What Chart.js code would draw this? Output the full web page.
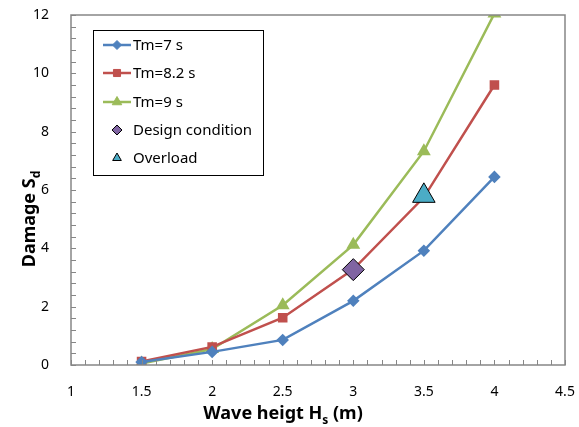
<!DOCTYPE html>
<html><head><meta charset="utf-8">
<script src="https://cdn.jsdelivr.net/npm/chart.js@4.4.0/dist/chart.umd.min.js"></script>
<style>html,body{margin:0;padding:0;background:#fff}#wrap{width:579px;height:427px}</style>
</head><body><div id="wrap"><canvas id="c" width="579" height="427"></canvas></div>
<script>
const hs = [1.5, 2, 2.5, 3, 3.5, 4];
const tm7 = [0.1, 0.45, 0.86, 2.2, 3.92, 6.45];
const tm82 = [0.12, 0.62, 1.62, 3.28, 5.75, 9.6];
const tm9 = [0.05, 0.55, 2.05, 4.12, 7.33, 12.05];
const designX = [3], designY = [3.27];
const overloadX = [3.5], overloadY = [5.8];
const seriesNames = ['Tm=7 s', 'Tm=8.2 s', 'Tm=9 s', 'Design condition', 'Overload'];
const xTicks = [1, 1.5, 2, 2.5, 3, 3.5, 4, 4.5];
const yTicks = [0, 2, 4, 6, 8, 10, 12];

const pts = (xs, ys) => xs.map((x, i) => ({x, y: ys[i]}));
const FONT = '"Noto Sans", "Liberation Sans", sans-serif';

const datasets = [
  {label: seriesNames[0], data: pts(hs, tm7), borderColor: '#4F81BD', backgroundColor: '#4F81BD', pointStyle: 'rectRot', pointRadius: 4.5, borderWidth: 2.5, showLine: true, clip: 0, order: 3},
  {label: seriesNames[1], data: pts(hs, tm82), borderColor: '#C0504D', backgroundColor: '#C0504D', pointStyle: 'rect', pointRadius: 5, borderWidth: 2.5, showLine: true, clip: 0, order: 4},
  {label: seriesNames[2], data: pts(hs, tm9), borderColor: '#9BBB59', backgroundColor: '#9BBB59', pointStyle: 'triangle', pointRadius: 5.5, borderWidth: 2.5, showLine: true, clip: 0, order: 5},
  {label: seriesNames[3], data: pts(designX, designY), borderColor: '#000', backgroundColor: '#8064A2', pointStyle: 'rectRot', pointRadius: 11, pointBorderWidth: 1, showLine: false, clip: false, order: 1},
  {label: seriesNames[4], data: pts(overloadX, overloadY), borderColor: '#000', backgroundColor: '#4BACC6', pointStyle: 'triangle', pointRadius: 13, pointBorderWidth: 1, showLine: false, clip: false, order: 2}
];

const extras = {
  id: 'extras',
  afterDraw(chart) {
    const ctx = chart.ctx, a = chart.chartArea;
    const xs = chart.scales.x, ys = chart.scales.y;
    ctx.save();
    ctx.strokeStyle = '#868686';
    ctx.lineWidth = 1;
    ctx.beginPath();
    for (let v = 0; v <= 12.0001; v += 0.4) {
      const p = Math.round(ys.getPixelForValue(v)) + 0.5;
      ctx.moveTo(a.left, p); ctx.lineTo(a.left + 5, p);
    }
    for (let v = 1; v <= 4.5001; v += 0.1) {
      const p = Math.round(xs.getPixelForValue(v)) + 0.5;
      ctx.moveTo(p, a.bottom); ctx.lineTo(p, a.bottom - 5);
    }
    ctx.stroke();
    ctx.lineWidth = 1.5;
    ctx.strokeRect(a.left, a.top, a.right - a.left, a.bottom - a.top);
    ctx.fillStyle = '#000';
    ctx.textBaseline = 'alphabetic';
    const big = 'bold 18px ' + FONT, small = 'bold 12px ' + FONT;
    const parts = [['Wave heigt H', big, 0], ['s', small, 5], [' (m)', big, 0]];
    let w = 0;
    parts.forEach(p => { ctx.font = p[1]; w += ctx.measureText(p[0]).width; });
    let x0 = 283 - w / 2;
    parts.forEach(p => { ctx.font = p[1]; ctx.fillText(p[0], x0, 419 + p[2]); x0 += ctx.measureText(p[0]).width; });
    ctx.save();
    ctx.translate(35, 219);
    ctx.rotate(-Math.PI / 2);
    const yp = [['Damage S', big, 0], ['d', small, 5]];
    w = 0;
    yp.forEach(p => { ctx.font = p[1]; w += ctx.measureText(p[0]).width; });
    x0 = -w / 2;
    yp.forEach(p => { ctx.font = p[1]; ctx.fillText(p[0], x0, p[2]); x0 += ctx.measureText(p[0]).width; });
    ctx.restore();
    const L = {x: 93, y: 30, w: 170, h: 145};
    ctx.fillStyle = '#fff';
    ctx.fillRect(L.x, L.y, L.w, L.h);
    ctx.strokeStyle = '#000';
    ctx.lineWidth = 1;
    ctx.strokeRect(L.x + 0.5, L.y + 0.5, L.w, L.h);
    const rows = [45, 73, 102, 130, 158];
    chart.data.datasets.forEach((d, i) => {
      const cy = rows[i];
      if (d.showLine) {
        ctx.strokeStyle = d.borderColor; ctx.lineWidth = 2.5;
        ctx.beginPath(); ctx.moveTo(103, cy); ctx.lineTo(131, cy); ctx.stroke();
      }
      const r = d.showLine ? d.pointRadius : 5;
      ctx.fillStyle = d.backgroundColor;
      ctx.strokeStyle = d.showLine ? d.borderColor : '#000';
      ctx.lineWidth = 1;
      Chart.helpers.drawPoint(ctx, {pointStyle: d.pointStyle, radius: r, borderWidth: 1, rotation: 0}, 117, cy);
      ctx.fillStyle = '#000';
      ctx.font = '15px ' + FONT;
      ctx.textBaseline = 'middle';
      ctx.fillText(d.label, 133, cy + 1);
    });
    ctx.restore();
  }
};

new Chart(document.getElementById('c'), {
  type: 'scatter',
  data: {datasets},
  options: {
    responsive: false,
    animation: false,
    devicePixelRatio: 1,
    layout: {padding: {left: 0, right: 10, top: 15, bottom: 0}},
    plugins: {legend: {display: false}, tooltip: {enabled: false}},
    scales: {
      x: {
        type: 'linear', min: 1, max: 4.5,
        afterBuildTicks: s => { s.ticks = xTicks.map(v => ({value: v})); },
        afterFit: s => { s.height = 62; s.paddingLeft = 0; s.paddingRight = 0; },
        grid: {display: false}, border: {display: false},
        ticks: {color: '#000', font: {family: FONT, size: 14}, padding: 11, maxRotation: 0, autoSkip: false, callback: v => String(v)}
      },
      y: {
        type: 'linear', min: 0, max: 12,
        afterBuildTicks: s => { s.ticks = yTicks.map(v => ({value: v})); },
        afterFit: s => { s.width = 71; s.paddingTop = 0; s.paddingBottom = 0; },
        grid: {display: false}, border: {display: false},
        ticks: {color: '#000', font: {family: FONT, size: 14}, padding: 14, callback: v => String(v)}
      }
    }
  },
  plugins: [extras]
});
</script></body></html>
